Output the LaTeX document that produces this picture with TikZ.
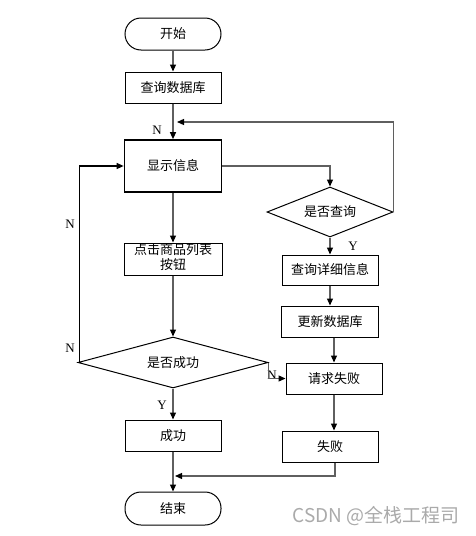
\documentclass[tikz,border=0pt]{standalone}
\usepackage{fontspec}
\setmainfont{Liberation Serif}
\newfontfamily\cjk{Noto Sans CJK SC}
\usetikzlibrary{arrows.meta,shapes.geometric,calc}
\definecolor{linegray}{RGB}{95,95,95}
\definecolor{wmgray}{RGB}{170,170,170}
\tikzset{
  box/.style={draw=black,line width=1pt,minimum width=96pt,minimum height=31pt,inner sep=0pt,font=\cjk\fontsize{13}{16}\selectfont,align=center},
  thickbox/.style={box,line width=1.7pt},
  term/.style={box,rounded corners=16pt},
  dia/.style={draw=black,line width=1pt,diamond,aspect=2.5,inner sep=0pt,font=\cjk\fontsize{13}{16}\selectfont},
  conn/.style={draw=linegray,line width=1.2pt,-{Triangle[length=7pt,width=6pt,color=black]}},
  lab/.style={font=\fontsize{13}{15}\selectfont,inner sep=0pt}
}
\begin{document}
\begin{tikzpicture}[x=1pt,y=-1pt]
\useasboundingbox (0,0) rectangle (475,536);
\fill[white] (0,0) rectangle (475,536);
% nodes
\node[term,minimum height=32pt] (start) at (173,34) {开始};
\node[box] (q) at (173,87.5) {查询数据库};
\node[thickbox,minimum width=97pt,minimum height=52pt] (show) at (173,166) {显示信息};
\node[box,minimum width=98pt,minimum height=32pt] (click) at (173,259) {\raisebox{5pt}{\shortstack{点击商品列表\\按钮}}};
\node[dia,minimum width=126pt,minimum height=50pt] (dq) at (330,212) {是否查询};
\node[box,minimum height=30pt] (detail) at (330,270) {查询详细信息};
\node[box,minimum width=97pt] (upd) at (330,321.5) {更新数据库};
\node[box] (req) at (334,378.5) {请求失败};
\node[box] (fail) at (330,446.5) {失败};
\node[dia,minimum width=190pt,minimum height=51pt] (ds) at (173,362.5) {是否成功};
\node[box] (ok) at (173,435.5) {成功};
\node[term,minimum height=33pt] (end) at (173,508.5) {结束};
% labels
\node[lab] (n1) at (157,130) {N};
\node[lab] (n2) at (70,224) {N};
\node[lab] (n3) at (70,348) {N};
\node[lab] (n4) at (272,375) {N};
\node[lab] (y1) at (353,246) {Y};
\node[lab] (y2) at (162,405) {Y};
\coordinate (loopend) at (177,122);
\coordinate (joinend) at (175,476);
% connectors
\draw[conn] (start) -- (q);
\draw[conn] (q) -- (show);
\draw[conn] (dq.east) |- (loopend);
\draw[conn] (show.east) -| (dq.north);
\draw[conn] (show) -- (click);
\draw[conn] (click) -- (ds.north);
\draw[conn,draw=black] (ds.west) -- ++(2,0) |- (show.west);
\draw[conn] (ds.south) -- (ok);
\draw[conn] (ds.east) |- (req.west);
\draw[conn] (dq.south) -- (detail);
\draw[conn] (detail) -- (upd);
\draw[conn] (upd.south -| req.north) -- (req.north);
\draw[conn] (req.south) -- (req.south |- fail.north);
\draw[conn] ($(fail.south)+(5,0)$) |- (joinend);
\draw[conn] (ok) -- (end);
% watermark
\node[font=\cjk\fontsize{19}{22}\selectfont,text=wmgray,inner sep=0pt] (wm) at (376,516) {CSDN @全栈工程司};
\end{tikzpicture}
\end{document}
